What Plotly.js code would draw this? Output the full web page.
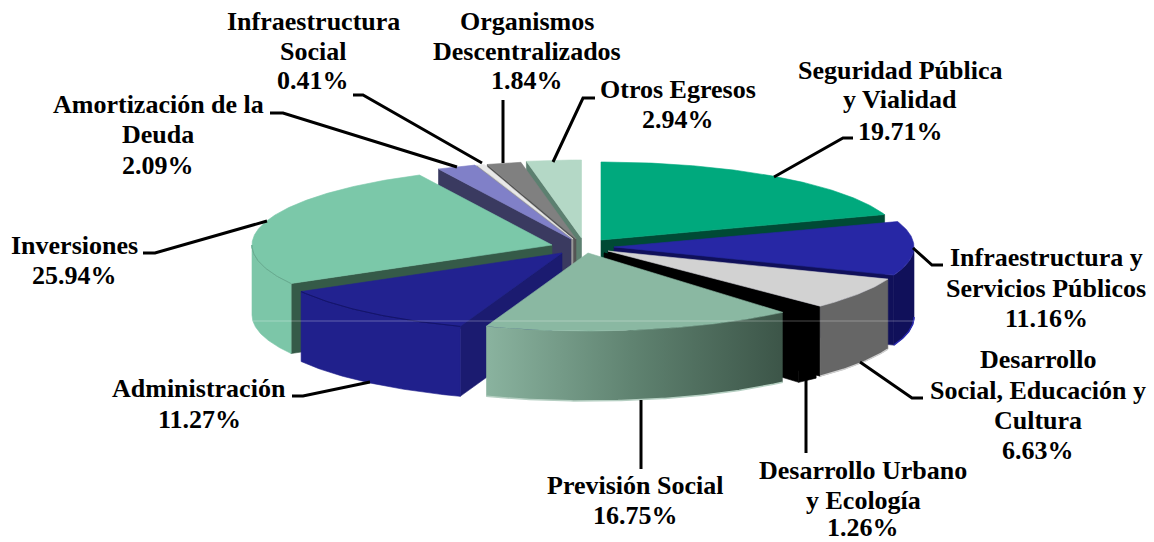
<!DOCTYPE html>
<html>
<head>
<meta charset="utf-8">
<script src="https://cdn.plot.ly/plotly-3.0.1.min.js"></script>
<style>html,body{margin:0;padding:0;background:#fff}#chart{width:1154px;height:542px}</style>
</head>
<body>
<div id="chart"></div>
<script>
// --- data ---
const categories = ["Seguridad Pública y Vialidad","Infraestructura y Servicios Públicos","Desarrollo Social, Educación y Cultura","Desarrollo Urbano y Ecología","Previsión Social","Administración","Inversiones","Amortización de la Deuda","Infraestructura Social","Organismos Descentralizados","Otros Egresos"];
const shares = [19.71,11.16,6.63,1.26,16.75,11.27,25.94,2.09,0.41,1.84,2.94];
const labelLines = [
  ["Seguridad Pública","y Vialidad"],
  ["Infraestructura y","Servicios Públicos"],
  ["Desarrollo","Social, Educación y","Cultura"],
  ["Desarrollo Urbano","y Ecología"],
  ["Previsión Social"],
  ["Administración"],
  ["Inversiones"],
  ["Amortización de la","Deuda"],
  ["Infraestructura","Social"],
  ["Organismos","Descentralizados"],
  ["Otros Egresos"]
];
// --- pie geometry and styling ---
const RX = 300, RY = 78, DEPTH = 70;
const centerX = [601,614,608,604,588,562,552,571,573,576,581.5];
const centerY = [240,247,251,253,253,253,245,239,239,239,238];
const topColor = ["#00a97d","#2727a5","#d2d2d2","#000000","#8ab8a2","#222290","#7bc8a9","#8080c8","#e8e8e8","#808080","#b4d8c6"];
const faceColor = ["#004a35","#10105a","#000000","#000000","#4a6a5a","#1b1b70","#355a48","#3a3a60","#999999","#555555","#5c8070"];
const wallColor = ["#00795a","#10105a","#666666","#000000",null,"#20208c","#7cc6a8","#5a5a90","#aaaaaa","#666666","#8aa89a"];
const bottomRim = [null,"#2a2ab0","#cfcfcf",null,"#b5cfc2",null,null,null,null,null,null];
const topRim = [null,null,null,null,null,"#14146a","#68ab90",null,null,null,null];
const drawOrder = [10,9,8,7,0,6,1,2,3,5,4];
const labelX = [900,1046,1038,863,635,199,74,158,313,527,678];
const labelLineY = [
  [70,99,131],[257,288,318],[359,390,420,450],[470,500,527],[485,515],
  [388,419],[245,275],[104,134,165],[21,51,80],[21,51,80],[89,119]
];
const leaders = [
  [[853,843,774],[138,138,177]],
  [[943,932,913],[265,265,248]],
  [[923,912,860],[398,398,362]],
  [[806,806],[378,453]],
  [[641,641],[400,469]],
  [[292,303,370],[396,396,382]],
  [[143,155,267],[253,253,221]],
  [[270,283,457],[113,113,167]],
  [[353,363,482],[95,95,163]],
  [[503,503],[100,163]],
  [[595,583,553],[98,98,162]]
];

const starts = [];
let running = 0;
shares.forEach(v => { starts.push(running); running += v; });
const total = running;
const toTheta = p => p / total * 2 * Math.PI;

function rim(i, a, b, dy) {
  const n = Math.max(2, Math.ceil(Math.abs(b - a) / 0.01));
  const xs = [], ys = [];
  for (let k = 0; k <= n; k++) {
    const t = a + (b - a) * k / n;
    xs.push(centerX[i] + RX * Math.sin(t));
    ys.push(centerY[i] - RY * Math.cos(t) + dy);
  }
  return [xs, ys];
}
function poly(xs, ys, color, extra) {
  return Object.assign({type:"scatter", mode:"lines", x:xs, y:ys, fill:"toself", fillcolor:color,
    line:{color:color, width:0.6}, hoverinfo:"skip", showlegend:false}, extra || {});
}
function stroke(xs, ys, color, width) {
  return {type:"scatter", mode:"lines", x:xs, y:ys, line:{color:color, width:width}, hoverinfo:"skip", showlegend:false};
}
function face(i, t) {
  const ex = centerX[i] + RX * Math.sin(t), ey = centerY[i] - RY * Math.cos(t);
  return poly([centerX[i], ex, ex, centerX[i], centerX[i]],
              [centerY[i], ey, ey + DEPTH, centerY[i] + DEPTH, centerY[i]], faceColor[i]);
}

const traces = [];
drawOrder.forEach(i => {
  const a = toTheta(starts[i]), b = toTheta(starts[i] + shares[i]);
  if (Math.sin(a) < 0) traces.push(face(i, a));
  if (Math.sin(b) > 0) traces.push(face(i, b));
  const wa = Math.max(a, Math.PI / 2), wb = Math.min(b, 1.5 * Math.PI);
  if (wb > wa) {
    const up = rim(i, wa, wb, 0), dn = rim(i, wb, wa, DEPTH);
    const wx = up[0].concat(dn[0], [up[0][0]]), wy = up[1].concat(dn[1], [up[1][0]]);
    if (wallColor[i]) traces.push(poly(wx, wy, wallColor[i]));
    else traces.push(poly(wx, wy, "#6a9582", {fillgradient:{type:"horizontal",
      colorscale:[[0,"#8ab39f"],[0.5,"#5f8270"],[1,"#3c5548"]]}, line:{width:0}}));
    if (bottomRim[i]) traces.push(stroke(dn[0], dn[1], bottomRim[i], 1.5));
    if (topRim[i]) traces.push(stroke(up[0], up[1], topRim[i], 1));
  }
  const r = rim(i, a, b, 0);
  traces.push(poly([centerX[i]].concat(r[0], [centerX[i]]), [centerY[i]].concat(r[1], [centerY[i]]), topColor[i]));
  if (topRim[i] && wb > wa) {
    const up = rim(i, wa, wb, 0);
    traces.push(stroke(up[0], up[1], topRim[i], 1));
  }
});

leaders.forEach(l => traces.push(stroke(l[0], l[1], "#000", 3)));

const annotations = [];
categories.forEach((c, i) => {
  labelLines[i].concat([shares[i].toFixed(2) + "%"]).forEach((line, k) => {
    annotations.push({
      x: labelX[i], y: labelLineY[i][k], xref:"x", yref:"y", showarrow:false, align:"center",
      xanchor:"center", yanchor:"middle", text:"<b>" + line + "</b>",
      font:{family:"Liberation Serif", size:26, color:"#000"}
    });
  });
});

const layout = {
  width:1154, height:542, margin:{l:0,r:0,t:0,b:0}, paper_bgcolor:"#fff", plot_bgcolor:"#fff",
  xaxis:{range:[0,1154], visible:false, fixedrange:true},
  yaxis:{range:[542,0], visible:false, fixedrange:true},
  annotations:annotations, showlegend:false,
  shapes:[{type:"line", xref:"x", yref:"y", x0:253, x1:914, y0:321, y1:321, layer:"above",
    line:{color:"rgba(255,255,255,0.3)", width:1}}]
};
Plotly.newPlot("chart", traces, layout, {displayModeBar:false, staticPlot:true});
</script>
</body>
</html>
